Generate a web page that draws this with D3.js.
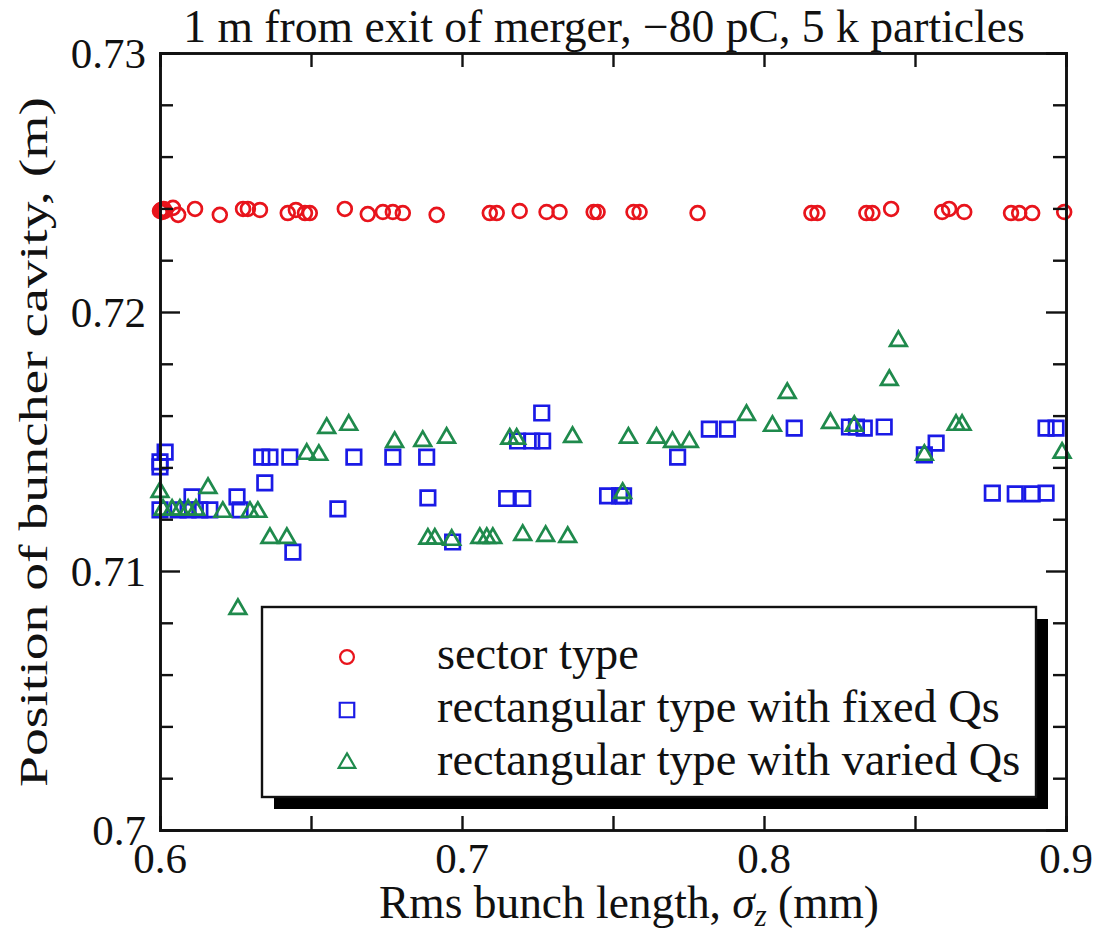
<!DOCTYPE html>
<html><head><meta charset="utf-8">
<script src="https://cdn.jsdelivr.net/npm/d3@7"></script>
<style>body{margin:0;background:#fff}svg{display:block}</style>
</head><body><svg id="c" width="1097" height="932"></svg>
<script>
const sectorX=[0.6,0.6004,0.6008,0.6012,0.6016,0.6043,0.606,0.6116,0.6198,0.6275,0.6291,0.6331,0.6423,0.645,0.648,0.6496,0.6612,0.6688,0.6738,0.6771,0.6804,0.6916,0.7092,0.7115,0.7191,0.728,0.7323,0.7436,0.7449,0.7568,0.7588,0.778,0.8157,0.8177,0.8339,0.8359,0.8421,0.859,0.8613,0.8663,0.8818,0.8845,0.8888,0.8994];
const sectorY=[0.7239,0.72394,0.72386,0.72398,0.7239,0.72402,0.72375,0.72398,0.72375,0.72398,0.72398,0.72394,0.72382,0.72394,0.72382,0.72382,0.72398,0.72378,0.72386,0.72386,0.72382,0.72375,0.72382,0.72382,0.7239,0.72386,0.72386,0.72386,0.72386,0.72386,0.72386,0.72382,0.72382,0.72382,0.72382,0.72382,0.72398,0.72386,0.72398,0.72386,0.72382,0.72382,0.72382,0.72386];
const fixedX=[0.6017,0.6,0.6,0.6,0.606,0.6093,0.6132,0.6165,0.6106,0.6255,0.6265,0.6337,0.6364,0.6347,0.643,0.644,0.6589,0.6642,0.6771,0.6883,0.6887,0.6969,0.7264,0.7184,0.7231,0.7267,0.7148,0.7201,0.7482,0.7522,0.7535,0.7714,0.7819,0.7879,0.81,0.8283,0.8306,0.8332,0.8398,0.8531,0.857,0.8756,0.8832,0.8888,0.8934,0.8934,0.8967];
const fixedY=[0.71459,0.71421,0.71402,0.71236,0.71236,0.71236,0.71236,0.71236,0.71286,0.71286,0.71236,0.7144,0.7144,0.7134,0.7144,0.71073,0.7124,0.7144,0.7144,0.7144,0.71282,0.71112,0.7161,0.71502,0.71502,0.71502,0.7128,0.7128,0.7129,0.7129,0.7129,0.7144,0.71548,0.71548,0.71552,0.71556,0.71556,0.71552,0.71556,0.71448,0.71494,0.71301,0.71298,0.71298,0.71301,0.71552,0.71552];
const variedX=[0.6,0.601,0.604,0.6066,0.6093,0.6119,0.6159,0.6208,0.6298,0.6324,0.6364,0.642,0.6258,0.6552,0.6625,0.6486,0.6526,0.6777,0.687,0.6949,0.6887,0.691,0.6966,0.7059,0.7082,0.7102,0.7201,0.7277,0.735,0.7158,0.7181,0.7366,0.7551,0.7644,0.7697,0.7753,0.7532,0.7942,0.8028,0.8077,0.822,0.8299,0.8415,0.8445,0.8531,0.8636,0.8656,0.8987];
const variedY=[0.71305,0.71236,0.71236,0.71236,0.71236,0.71236,0.7132,0.71228,0.71228,0.71228,0.71127,0.71127,0.70853,0.71552,0.71564,0.71452,0.71448,0.71498,0.71502,0.71514,0.71124,0.71124,0.7112,0.71127,0.71127,0.71127,0.71139,0.71135,0.71131,0.7151,0.7151,0.71517,0.71514,0.71514,0.71498,0.71498,0.71301,0.71602,0.7156,0.71687,0.71571,0.7156,0.71737,0.71888,0.71448,0.71564,0.71564,0.71456];
const xMajor=[0.6,0.7,0.8,0.9], xMinor=[0.65,0.75,0.85];
const yMajor=[0.70,0.71,0.72,0.73], yMinor=[0.702,0.704,0.706,0.708,0.712,0.714,0.716,0.718,0.722,0.724,0.726,0.728];
const xTickLabels=["0.6","0.7","0.8","0.9"], yTickLabels=["0.7","0.71","0.72","0.73"];
const legendLabels=["sector type","rectangular type with fixed Qs","rectangular type with varied Qs"];
const colors=["#e8141c","#1a1ae6","#1f8a4c"];
const FONT="'Liberation Serif', 'Times New Roman', serif";

const svg=d3.select("#c");
const L=160,R=1066,T=53,B=830;
const x=d3.scaleLinear().domain([0.6,0.9]).range([L,R]);
const y=d3.scaleLinear().domain([0.70,0.73]).range([B,T]);

const g=svg.append("g");
const sym={
 circle:d3.symbol().type(d3.symbolCircle).size(150),
 square:d3.symbol().type(d3.symbolSquare).size(210),
 triangle:d3.symbol().type(d3.symbolTriangle).size(120)
};
function plot(xs,ys,path,col){
 g.selectAll(null).data(xs.map((v,i)=>[v,ys[i]])).enter().append("path")
  .attr("d",path).attr("transform",d=>`translate(${x(d[0])},${y(d[1])})`)
  .attr("fill","none").attr("stroke",col).attr("stroke-width",2.7);
}
plot(sectorX,sectorY,sym.circle,colors[0]);
plot(fixedX,fixedY,sym.square,colors[1]);
plot(variedX,variedY,sym.triangle,colors[2]);

function ax(gen,tr,vals,size){
 const a=svg.append("g").attr("transform",tr).call(gen.tickValues(vals).tickSize(size).tickFormat(""));
 a.select(".domain").attr("stroke","#111").attr("stroke-width",2.6);
 a.selectAll(".tick line").attr("stroke","#111").attr("stroke-width",2.4);
 return a;
}
ax(d3.axisBottom(x),`translate(0,${B})`,xMajor,-14);
ax(d3.axisBottom(x),`translate(0,${B})`,xMinor,-14);
ax(d3.axisTop(x),`translate(0,${T})`,xMajor,-14);
ax(d3.axisTop(x),`translate(0,${T})`,xMinor,-14);
ax(d3.axisLeft(y),`translate(${L},0)`,yMajor,-20);
ax(d3.axisLeft(y),`translate(${L},0)`,yMinor,-13);
ax(d3.axisRight(y),`translate(${R},0)`,yMajor,-20);
ax(d3.axisRight(y),`translate(${R},0)`,yMinor,-13);

function txt(size){return svg.append("text").style("font-family",FONT).attr("font-size",size).attr("fill","#111");}
function fit(t,w){const m=t.node().getComputedTextLength();const s=+t.attr("font-size");t.attr("font-size",s*w/m);t.selectAll("tspan").each(function(){const e=d3.select(this);if(e.attr("font-size"))e.attr("font-size",+e.attr("font-size")*w/m);});return t;}

xMajor.forEach((d,i)=>txt(43).attr("x",x(d)).attr("y",B+43).attr("text-anchor","middle").text(xTickLabels[i]));
yMajor.forEach((d,i)=>txt(43).attr("x",L-14).attr("y",y(d)+15).attr("text-anchor","end").text(yTickLabels[i]));

fit(txt(40).attr("x",604).attr("y",42).attr("text-anchor","middle").text("1 m from exit of merger, \u221280 pC, 5 k particles"),842);
const xl=txt(40).attr("x",629).attr("y",918).attr("text-anchor","middle");
xl.append("tspan").text("Rms bunch length, ");
xl.append("tspan").attr("font-style","italic").text("\u03c3");
xl.append("tspan").attr("font-style","italic").attr("font-size",27).attr("dy",8).text("z");
xl.append("tspan").attr("dy",-8).text(" (mm)");
fit(xl,500);
txt(40).attr("transform","translate(47,442) rotate(-90)").attr("text-anchor","middle")
 .attr("textLength",690).attr("lengthAdjust","spacingAndGlyphs").text("Position of buncher cavity, (m)");

const lx=262,ly=607,lw=774,lh=190;
svg.append("rect").attr("x",lx+12).attr("y",ly+12).attr("width",lw).attr("height",lh).attr("fill","#000");
svg.append("rect").attr("x",lx).attr("y",ly).attr("width",lw).attr("height",lh).attr("fill","#fff").attr("stroke","#111").attr("stroke-width",2.4);
const syms=[sym.circle,sym.square,sym.triangle];
const lt=[];
legendLabels.forEach((t,i)=>{
 const cy=ly+50+i*53;
 svg.append("path").attr("d",syms[i]).attr("transform",`translate(347,${cy})`).attr("fill","none").attr("stroke",colors[i]).attr("stroke-width",2.2);
 lt.push(txt(37).attr("x",437).attr("y",cy+12).text(t));
});
const m=lt[1].node().getComputedTextLength();
lt.forEach(t=>t.attr("font-size",37*563/m));
</script></body></html>
